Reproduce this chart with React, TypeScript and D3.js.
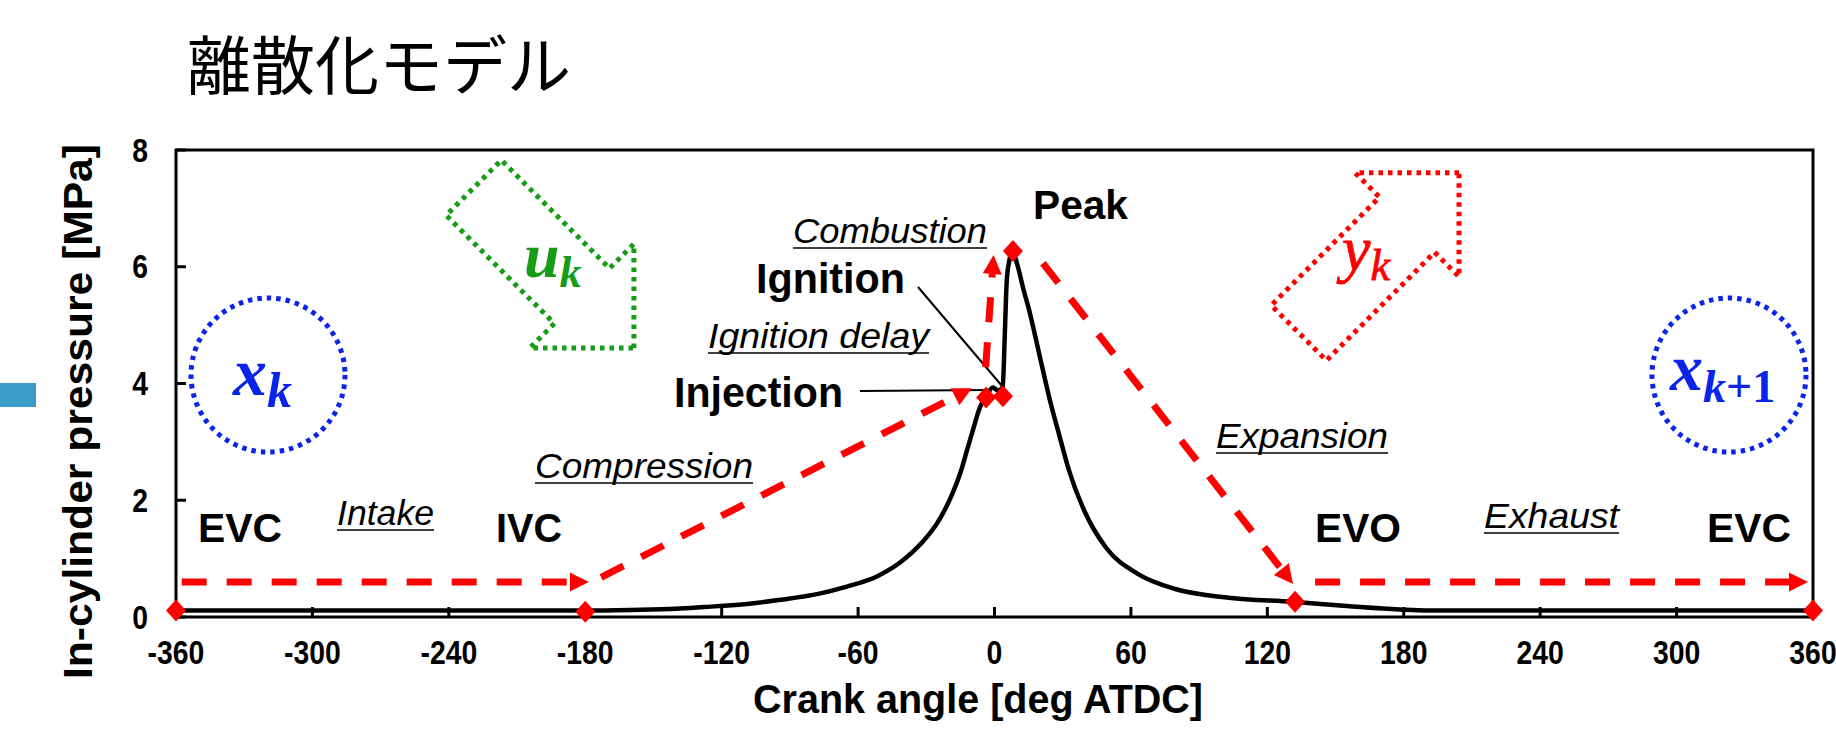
import React from 'react';
import * as d3 from 'd3';

// ---------- data ----------
const crankAngle = [-360, -330, -300, -270, -240, -210, -180, -160, -140, -128, -110, -95, -77, -65, -52, -42, -32, -25, -19, -15, -12, -9.5, -6.4, -3.7, -0.7, 1.5, 3.6, 4.5, 5.4, 6.5, 7.5, 8.5, 10.3, 12.5, 15.6, 20, 24.4, 28.8, 32.4, 39.5, 49, 63, 79.5, 103, 131, 155, 178, 200, 240, 280, 320, 360];
const pressure = [0.11, 0.11, 0.11, 0.11, 0.11, 0.11, 0.11, 0.12, 0.14, 0.17, 0.22, 0.29, 0.4, 0.52, 0.69, 0.92, 1.27, 1.62, 2.07, 2.47, 2.87, 3.2, 3.59, 3.78, 3.93, 3.88, 3.93, 4.8, 5.77, 6.1, 6.26, 6.22, 6.0, 5.65, 5.2, 4.45, 3.71, 3.07, 2.56, 1.82, 1.19, 0.74, 0.48, 0.33, 0.26, 0.19, 0.13, 0.11, 0.11, 0.11, 0.11, 0.11];

const xTickValues = [-360, -300, -240, -180, -120, -60, 0, 60, 120, 180, 240, 300, 360];
const yTickValues = [0, 2, 4, 6, 8];

const eventAngles = [-360, -180, -3.7, 3.7, 8.1, 132.2, 360];
const eventPressures = [0.11, 0.09, 3.76, 3.78, 6.27, 0.26, 0.11];

// cycle arrows (from -> to), in [deg, MPa]
const arrowFromAngle = [-357.5, -173, -3.9, 21.3, 141];
const arrowFromPressure = [0.6, 0.68, 4.28, 6.06, 0.6];
const arrowToAngle = [-178.4, -9.9, -0.4, 131.3, 357.8];
const arrowToPressure = [0.6, 3.92, 6.2, 0.565, 0.6];

const boldLabels = ['Peak', 'Ignition', 'Injection', 'EVC', 'IVC', 'EVO', 'EVC'];
const strokeLabels = ['Combustion', 'Ignition delay', 'Compression', 'Intake', 'Expansion', 'Exhaust'];

const title = '離散化モデル';
const xLabel = 'Crank angle [deg ATDC]';
const yLabel = 'In-cylinder pressure [MPa]';

// ---------- layout ----------
const W = 1836;
const H = 737;
const PL = 176, PR = 1813, PT = 150, PB = 617;

const SANS = '"Liberation Sans", Arial, sans-serif';
const SERIF = '"Liberation Serif", "DejaVu Serif", serif';
const RED = '#ff0000';
const BLUE = '#0a24e8';
const GREEN = '#169c16';

const boldPos = [
  { x: 1033, y: 219, w: 95, fs: 41 },
  { x: 756, y: 293, w: 149, fs: 43 },
  { x: 674, y: 407, w: 169, fs: 43 },
  { x: 198, y: 542, w: 84, fs: 41 },
  { x: 496, y: 542, w: 66, fs: 41 },
  { x: 1315, y: 542, w: 86, fs: 41 },
  { x: 1707, y: 542, w: 84, fs: 41 },
];
const italicPos = [
  { x: 793, y: 243, w: 194 },
  { x: 708, y: 348, w: 221 },
  { x: 535, y: 478, w: 218 },
  { x: 337, y: 525, w: 97 },
  { x: 1216, y: 448, w: 172 },
  { x: 1484, y: 528, w: 135 },
];

const TICK_FS = 33;
const TICK_SQUEEZE = 0.86;
function tickWidth(s: string) {
  let em = 0;
  for (const ch of s) em += ch === '-' ? 0.333 : 0.556;
  return em * TICK_FS * TICK_SQUEEZE;
}

function diamondPath(cx: number, cy: number) {
  const a = 10, b = 11;
  return `M${cx},${cy - b}L${cx + a},${cy}L${cx},${cy + b}L${cx - a},${cy}Z`;
}

// block arrow in local frame pointing +x with tip at origin
function blockArrowPath() {
  const L = 153, hw = 39, hb = 73.5, hl = 73.5;
  const pts = [
    [0, 0],
    [-hl, -hb],
    [-hl, -hw],
    [-hl - L, -hw],
    [-hl - L, hw],
    [-hl, hw],
    [-hl, hb],
  ];
  return 'M' + pts.map((p) => p.join(',')).join('L') + 'Z';
}

export default function App() {
  const x = d3.scaleLinear().domain([-360, 360]).range([PL, PR]);
  const y = d3.scaleLinear().domain([0, 8]).range([PB, PT]);

  const line = d3
    .line<number>()
    .x((_, i) => x(crankAngle[i]))
    .y((_, i) => y(pressure[i]))
    .curve(d3.curveMonotoneX);
  const curvePath = line(pressure) || '';

  const arrows = arrowFromAngle.map((_, i) => {
    const x0 = x(arrowFromAngle[i]);
    const y0 = y(arrowFromPressure[i]);
    const x1 = x(arrowToAngle[i]);
    const y1 = y(arrowToPressure[i]);
    const dx = x1 - x0, dy = y1 - y0;
    const len = Math.hypot(dx, dy);
    const ux = dx / len, uy = dy / len;
    const hl = 19, hw = 9.5;
    const bx = x1 - ux * hl, by = y1 - uy * hl;
    const tri = `M${x1},${y1}L${bx - uy * hw},${by + ux * hw}L${bx + uy * hw},${by - ux * hw}Z`;
    return { x0, y0, bx, by, tri };
  });

  const arrowShape = blockArrowPath();
  const dotted = { fill: 'none', strokeWidth: 5, strokeDasharray: '4.5 5' };

  return (
    <svg width={W} height={H} style={{ position: 'absolute', left: 0, top: 0, background: '#fff' }}>
      <rect x={0} y={0} width={W} height={H} fill="#fff" />
      {/* title */}
      <text x={187} y={89} fontFamily='"Noto Sans CJK JP", sans-serif' fontSize={64} fontWeight={400} fill="#000">
        {title}
      </text>
      {/* side tab */}
      <rect x={0} y={383} width={36} height={24} fill="#3a9cc8" />

      {/* frame */}
      <rect x={PL} y={PT} width={PR - PL} height={PB - PT} fill="none" stroke="#000" strokeWidth={3} />
      {yTickValues.map((v) => (
        <g key={'yt' + v}>
          <line x1={PL} x2={PL + 10} y1={y(v)} y2={y(v)} stroke="#000" strokeWidth={3} />
          <text
            x={148}
            y={y(v) + 11.5}
            textAnchor="end"
            fontFamily={SANS}
            fontWeight="bold"
            fontSize={TICK_FS}
            textLength={tickWidth(String(v))}
            lengthAdjust="spacingAndGlyphs"
          >
            {v}
          </text>
        </g>
      ))}
      {xTickValues.map((v) => (
        <g key={'xt' + v}>
          <line x1={x(v)} x2={x(v)} y1={PB} y2={PB - 10} stroke="#000" strokeWidth={3} />
          <text
            x={x(v)}
            y={664}
            textAnchor="middle"
            fontFamily={SANS}
            fontWeight="bold"
            fontSize={TICK_FS}
            textLength={tickWidth(String(v))}
            lengthAdjust="spacingAndGlyphs"
          >
            {v}
          </text>
        </g>
      ))}
      <text x={978} y={713} textAnchor="middle" fontFamily={SANS} fontWeight="bold" fontSize={41} textLength={450} lengthAdjust="spacingAndGlyphs">
        {xLabel}
      </text>
      <text
        transform="translate(92,411.5) rotate(-90)"
        textAnchor="middle"
        fontFamily={SANS}
        fontWeight="bold"
        fontSize={41}
        textLength={535}
        lengthAdjust="spacingAndGlyphs"
      >
        {yLabel}
      </text>

      {/* pressure trace */}
      <path d={curvePath} fill="none" stroke="#000" strokeWidth={4.5} strokeLinejoin="round" />

      {/* leader lines */}
      <line x1={860} y1={391} x2={990} y2={390} stroke="#000" strokeWidth={2} />
      <line x1={918} y1={287} x2={1002} y2={386} stroke="#000" strokeWidth={2} />

      {/* cycle arrows */}
      {arrows.map((a, i) => (
        <g key={'ar' + i}>
          <line x1={a.x0} y1={a.y0} x2={a.bx} y2={a.by} stroke={RED} strokeWidth={7} strokeDasharray="25 20" />
          <path d={a.tri} fill={RED} />
        </g>
      ))}

      {/* event diamonds */}
      {eventAngles.map((a, i) => (
        <path key={'dm' + i} d={diamondPath(x(a), y(eventPressures[i]))} fill={RED} />
      ))}

      {/* bold labels */}
      {boldLabels.map((t, i) => (
        <text
          key={'bl' + i}
          x={boldPos[i].x}
          y={boldPos[i].y}
          fontFamily={SANS}
          fontWeight="bold"
          fontSize={boldPos[i].fs}
          textLength={boldPos[i].w}
          lengthAdjust="spacingAndGlyphs"
        >
          {t}
        </text>
      ))}
      {/* italic stroke labels */}
      {strokeLabels.map((t, i) => (
        <g key={'il' + i}>
          <text
            x={italicPos[i].x}
            y={italicPos[i].y}
            fontFamily={SANS}
            fontStyle="italic"
            fontSize={35}
            textLength={italicPos[i].w}
            lengthAdjust="spacingAndGlyphs"
          >
            {t}
          </text>
          <line
            x1={italicPos[i].x}
            x2={italicPos[i].x + italicPos[i].w}
            y1={italicPos[i].y + 5}
            y2={italicPos[i].y + 5}
            stroke="#000"
            strokeWidth={1.6}
          />
        </g>
      ))}

      {/* state circles */}
      <circle cx={268} cy={375} r={77} stroke={BLUE} {...dotted} />
      <circle cx={1729} cy={375} r={77} stroke={BLUE} {...dotted} />
      <text x={233} y={395} fontFamily={SERIF} fontWeight="bold" fontStyle="italic" fontSize={68} fill={BLUE}>
        x<tspan fontSize={50} dy={12}>k</tspan>
      </text>
      <text x={1670} y={390} fontFamily={SERIF} fontWeight="bold" fontStyle="italic" fontSize={66} fill={BLUE}>
        x<tspan fontSize={46} dy={12}>k</tspan>
        <tspan fontSize={46} fontStyle="normal">+1</tspan>
      </text>

      {/* input / output block arrows */}
      <path d={arrowShape} transform={`translate(${x(-158.6)},${y(4.61)}) rotate(45)`} stroke={GREEN} {...dotted} />
      <text x={524} y={277} fontFamily={SERIF} fontWeight="bold" fontStyle="italic" fontSize={64} fill={GREEN}>
        u<tspan fontSize={44} dy={10}>k</tspan>
      </text>
      <path d={arrowShape} transform={`translate(${x(204.3)},${y(7.61)}) rotate(-45)`} stroke={RED} {...dotted} />
      <text x={1342} y={270} fontFamily={SERIF} fontStyle="italic" fontSize={64} fill={RED} stroke={RED} strokeWidth={0.8}>
        y<tspan fontSize={44} dy={10}>k</tspan>
      </text>
    </svg>
  );
}
